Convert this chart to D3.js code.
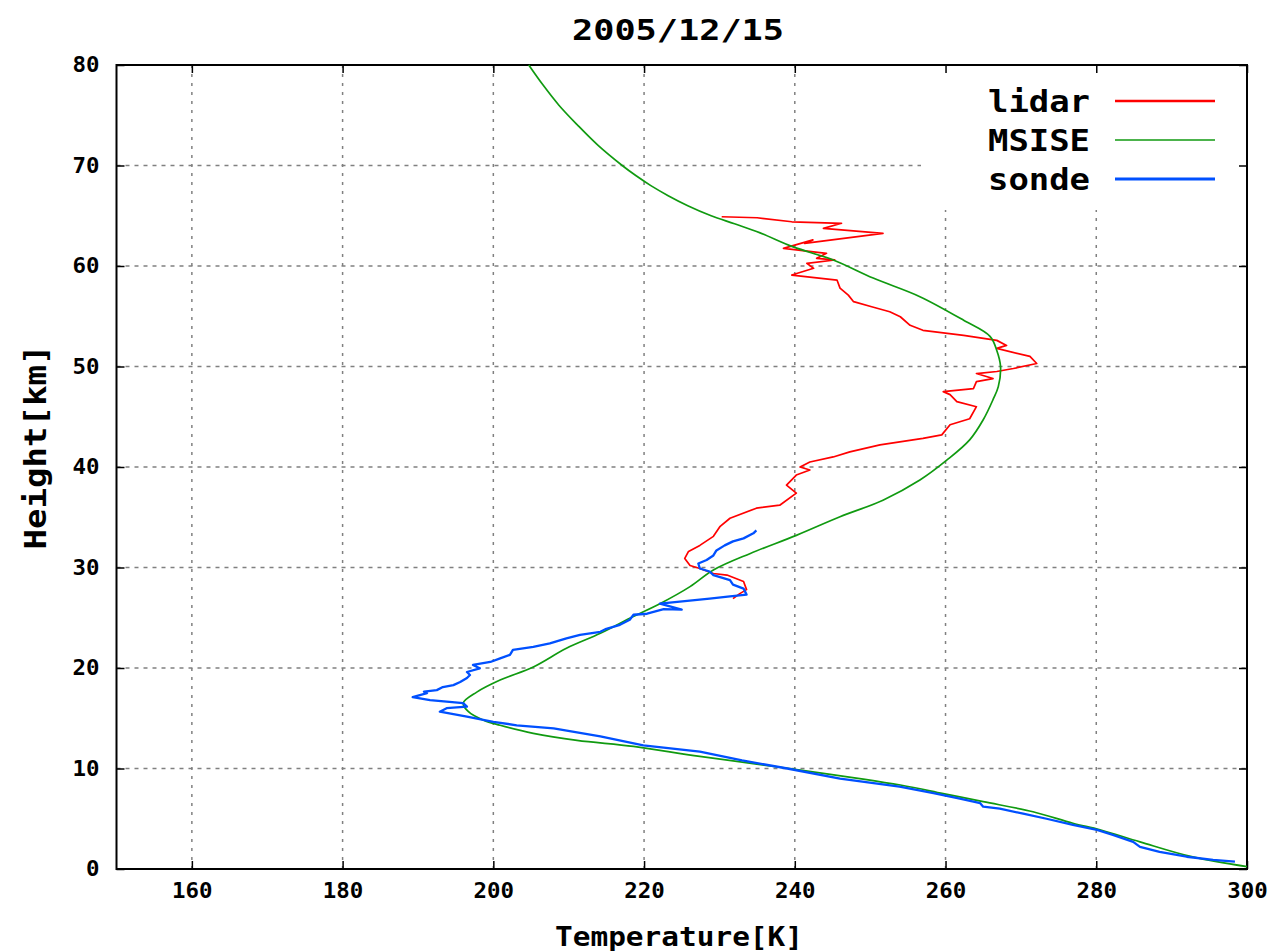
<!DOCTYPE html>
<html><head><meta charset="utf-8">
<script src="https://cdn.jsdelivr.net/npm/d3@7"></script>
<style>body{margin:0;background:#fff}svg{display:block}text{font-family:"DejaVu Sans Mono",monospace;font-weight:bold;fill:#000}</style>
</head><body>
<script>
const title = "2005/12/15";
const xLabel = "Temperature[K]";
const yLabel = "Height[km]";
const xTicks = [160,180,200,220,240,260,280,300];
const yTicks = [0,10,20,30,40,50,60,70,80];
const seriesNames = ["lidar","MSISE","sonde"];
const seriesColors = ["#ff0000","#109a10","#0050ff"];
// [temperature K, height km]
const lidar = [[230.3,64.9],[235.0,64.8],[239.6,64.4],[246.2,64.25],[243.8,63.75],[251.7,63.25],[241.3,62.26],[242.4,62.6],[238.5,61.76],[244.2,61.26],[242.9,60.76],[245.3,60.6],[241.6,60.27],[242.5,59.77],[239.6,59.1],[245.6,58.6],[246.0,57.8],[247.1,57.1],[247.8,56.45],[250.2,55.95],[252.6,55.45],[254.0,54.95],[255.3,54.1],[257.0,53.6],[262.4,53.1],[266.8,52.6],[268.1,52.1],[266.8,51.8],[271.2,51.0],[272.1,50.3],[269.0,49.8],[266.8,49.5],[264.1,49.3],[266.3,48.8],[264.1,48.5],[263.7,47.8],[259.7,47.5],[260.6,47.2],[261.5,46.5],[264.1,46.0],[263.2,44.8],[260.6,44.2],[259.5,43.2],[257.0,42.85],[251.3,42.2],[247.3,41.5],[245.1,41.0],[242.0,40.5],[240.7,40.0],[242.0,39.7],[240.2,39.2],[238.9,38.2],[240.2,37.4],[238.0,36.2],[234.9,35.9],[231.4,34.9],[230.1,34.1],[229.2,33.1],[227.4,32.2],[225.9,31.6],[225.4,30.9],[226.1,30.2],[227.4,29.9],[229.2,29.4],[231.0,29.25],[233.2,28.6],[233.6,27.8],[232.7,27.4],[231.8,26.9]];
const msise = [[204.7,80],[206.6,78],[208.7,76],[211.2,74],[213.9,72],[217.1,70],[218.9,69],[220.9,68],[223.2,67],[225.8,66],[228.9,65],[232.0,64.2],[235.4,63.3],[239.8,61.9],[245.1,60.6],[250.4,58.8],[256.6,56.95],[262.4,54.6],[265.9,53.0],[266.8,51.6],[267.3,50.0],[267.0,48.0],[266.3,46.7],[265.0,44.7],[263.2,42.7],[260.2,40.7],[256.6,38.7],[251.7,36.7],[246.0,35.05],[240.2,33.2],[234.1,31.4],[229.2,29.75],[226.1,28.1],[222.1,26.4],[218.5,25.1],[214.2,23.45],[209.7,21.96],[205.3,20.1],[200.9,18.8],[197.8,17.6],[196.0,16.5],[196.7,15.65],[198.7,14.8],[200.9,14.3],[205.3,13.5],[211.1,12.8],[218.6,12.2],[227.4,11.2],[239.3,10.0],[254.0,8.36],[259.7,7.5],[265.0,6.7],[271.6,5.7],[276.9,4.55],[280.5,3.9],[285.8,2.7],[292.8,1.2],[300.0,0.23]];
const sonde = [[298.4,0.73],[295.5,0.9],[292.0,1.22],[288.4,1.7],[285.8,2.2],[284.9,2.7],[282.2,3.4],[280.1,3.9],[276.9,4.4],[273.4,5.0],[270.3,5.5],[267.2,6.0],[265.0,6.2],[264.6,6.55],[261.9,7.0],[258.4,7.55],[253.9,8.2],[246.0,9.0],[239.0,10.0],[233.0,10.8],[227.4,11.67],[219.9,12.3],[214.2,13.2],[208.0,14.0],[203.1,14.3],[200.0,14.65],[196.5,15.15],[192.9,15.65],[193.8,16.0],[196.5,16.15],[196.0,16.5],[191.6,16.8],[189.3,17.1],[191.2,17.5],[190.8,17.65],[192.5,17.8],[193.3,18.1],[194.7,18.3],[195.6,18.6],[196.5,19.0],[196.9,19.3],[196.5,19.6],[198.2,19.97],[197.3,20.3],[199.6,20.6],[200.9,20.96],[202.2,21.3],[202.6,21.8],[205.3,22.1],[207.5,22.45],[209.7,22.95],[211.5,23.3],[214.2,23.6],[215.0,23.9],[216.8,24.3],[218.1,24.8],[218.6,25.3],[220.4,25.4],[222.6,25.85],[225.0,25.8],[222.1,26.4],[228.7,26.9],[231.1,27.1],[233.6,27.3],[233.2,27.9],[231.8,28.3],[231.4,28.75],[229.2,29.25],[228.7,29.6],[227.4,29.9],[227.2,30.4],[228.3,30.75],[229.2,31.2],[229.6,31.7],[230.7,32.2],[231.8,32.6],[233.2,32.9],[234.5,33.4],[234.9,33.7]];

const W = 1279, H = 951;
const L = 116.5, R = 1247, T = 65, B = 869;
const svg = d3.select("body").append("svg").attr("width", W).attr("height", H);
const x = d3.scaleLinear().domain([150,300]).range([L,R]);
const y = d3.scaleLinear().domain([0,80]).range([B,T]);

// grid
const g = svg.append("g");
xTicks.filter(v=>v<300).forEach(v=>{
  g.append("line").attr("x1",x(v)).attr("x2",x(v)).attr("y1",B).attr("y2",T)
   .attr("stroke","#808080").attr("stroke-width",1.5).attr("stroke-dasharray","3,6");
});
yTicks.filter(v=>v>0&&v<80).forEach(v=>{
  g.append("line").attr("x1",L).attr("x2",R).attr("y1",y(v)).attr("y2",y(v))
   .attr("stroke","#808080").attr("stroke-width",1.5).attr("stroke-dasharray","4,5");
});

// legend background
svg.append("rect").attr("x",921).attr("y",T+1).attr("width",R-921-1).attr("height",144).attr("fill","#fff");

// axes (ticks inward, mirrored)
const charW = 13.5;
const axB = d3.axisBottom(x).tickValues(xTicks).tickSize(-8).tickPadding(14).tickFormat(d3.format("d"));
const axT = d3.axisTop(x).tickValues(xTicks).tickSize(-8).tickFormat("");
const axL = d3.axisLeft(y).tickValues(yTicks).tickSize(-8).tickPadding(17).tickFormat(d3.format("d"));
const axR = d3.axisRight(y).tickValues(yTicks).tickSize(-8).tickFormat("");
function style(sel){
  sel.selectAll("path").remove();
  sel.selectAll("line").attr("stroke","#000").attr("stroke-width",1.5);
  sel.selectAll("text").attr("font-size",21).attr("font-family","DejaVu Sans Mono").attr("font-weight","bold").attr("fill","#000")
    .each(function(){ const t=d3.select(this); const s=t.text(); if(s) t.attr("textLength",s.length*charW).attr("lengthAdjust","spacingAndGlyphs"); });
}
svg.append("g").attr("transform",`translate(0,${B})`).call(axB).call(style);
svg.append("g").attr("transform",`translate(0,${T})`).call(axT).call(style);
svg.append("g").attr("transform",`translate(${L},0)`).call(axL).call(style);
svg.append("g").attr("transform",`translate(${R},0)`).call(axR).call(style);
svg.append("rect").attr("x",L).attr("y",T).attr("width",R-L).attr("height",B-T).attr("fill","none").attr("stroke","#000").attr("stroke-width",2);

// data lines
const line = d3.line().x(d=>x(d[0])).y(d=>y(d[1]));
const smooth = d3.line().x(d=>x(d[0])).y(d=>y(d[1])).curve(d3.curveCatmullRom);
const data = [lidar, msise, sonde];
const widths = [1.7,1.7,2.3];
data.forEach((d,i)=>{
  svg.append("path").datum(d).attr("d", i===1 ? smooth : line).attr("fill","none")
   .attr("stroke",seriesColors[i]).attr("stroke-width",widths[i]).attr("stroke-linejoin","round");
});

// legend
const legW = [2.6,1.6,2.8];
seriesNames.forEach((n,i)=>{
  const yy = 101 + i*39;
  svg.append("text").attr("x",1090).attr("y",yy).attr("dy","0.36em").attr("text-anchor","end")
   .attr("font-size",30).attr("textLength",102).attr("lengthAdjust","spacingAndGlyphs").text(n);
  svg.append("line").attr("x1",1115).attr("x2",1215).attr("y1",yy).attr("y2",yy)
   .attr("stroke",seriesColors[i]).attr("stroke-width",legW[i]);
});

// titles
svg.append("text").attr("x",678).attr("y",40).attr("text-anchor","middle").attr("font-size",29)
  .attr("textLength",212).attr("lengthAdjust","spacingAndGlyphs").text(title);
svg.append("text").attr("x",679).attr("y",946).attr("text-anchor","middle").attr("font-size",26)
  .attr("textLength",248).attr("lengthAdjust","spacingAndGlyphs").text(xLabel);
svg.append("text").attr("transform",`translate(46,${447}) rotate(-90)`).attr("text-anchor","middle").attr("font-size",31)
  .attr("textLength",205).attr("lengthAdjust","spacingAndGlyphs").text(yLabel);
</script>
</body></html>
